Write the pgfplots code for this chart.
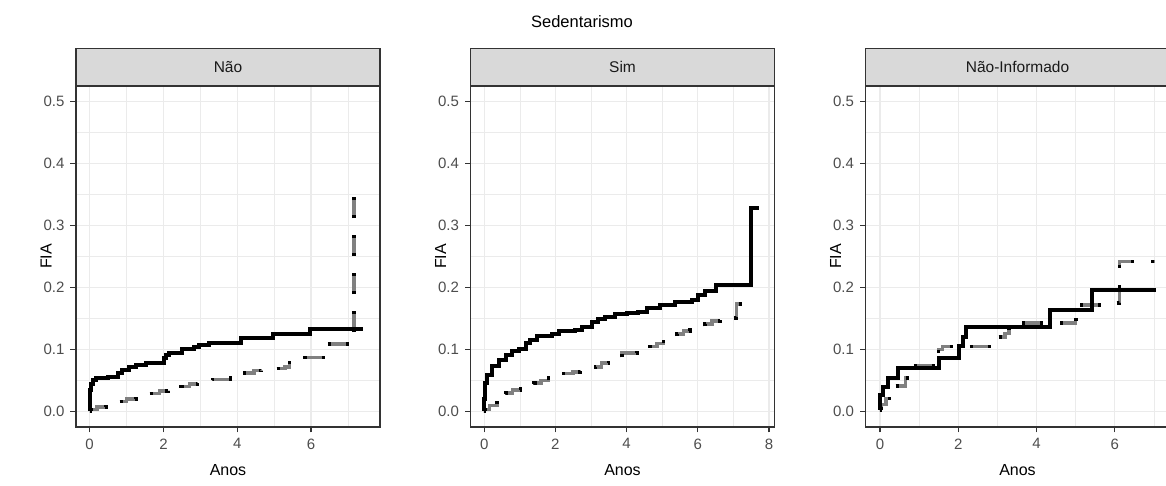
\documentclass[border=0pt]{standalone}
\usepackage{fontspec}
\setmainfont{Liberation Sans}
\usepackage{pgfplots}
\pgfplotsset{compat=1.18}
\usepackage{pgfplotstable}

\definecolor{grid92}{HTML}{EBEBEB}
\definecolor{grey20}{HTML}{333333}
\definecolor{grey30}{HTML}{4D4D4D}
\definecolor{grey10}{HTML}{1A1A1A}
\definecolor{strip85}{HTML}{D9D9D9}
\definecolor{dashgrey}{HTML}{808080}

% Cumulative incidence (FIA) step curves, one table per group and curve
\pgfplotstableread{
x y
0 0
0.01 0.02
0.02 0.035
0.04 0.045
0.1 0.05
0.18 0.054
0.49 0.056
0.76 0.062
0.89 0.067
1.07 0.072
1.25 0.075
1.52 0.079
2.02 0.087
2.06 0.091
2.15 0.095
2.51 0.1
2.83 0.104
2.96 0.108
3.23 0.111
4.1 0.118
4.97 0.125
5.96 0.133
7.4 0.133
}\naoS
\pgfplotstableread{
x y
0 0.003
0.2 0.007
0.44 0.011
0.6 0.014
0.76 0.016
1.0 0.02
1.25 0.025
1.6 0.029
1.9 0.033
2.12 0.036
2.47 0.04
2.7 0.044
2.93 0.048
3.33 0.052
3.82 0.054
4.2 0.062
4.45 0.066
4.66 0.069
5.3 0.072
5.42 0.083
5.82 0.087
6.43 0.109
7.17 0.352
}\naoD
\pgfplotstableread{
x y
0 0
0.005 0.02
0.02 0.046
0.08 0.059
0.22 0.073
0.41 0.083
0.6 0.091
0.78 0.097
0.97 0.1
1.16 0.11
1.3 0.116
1.48 0.121
1.9 0.125
2.09 0.13
2.56 0.132
2.75 0.137
3.03 0.145
3.2 0.149
3.4 0.153
3.68 0.158
4.0 0.159
4.33 0.16
4.57 0.167
4.94 0.172
5.36 0.176
5.83 0.18
6.0 0.188
6.2 0.195
6.5 0.204
7.5 0.329
7.73 0.329
}\simS
\pgfplotstableread{
x y
0 0.003
0.15 0.01
0.36 0.019
0.6 0.03
0.8 0.035
1.02 0.04
1.39 0.046
1.6 0.05
1.81 0.055
2.18 0.061
2.5 0.064
2.7 0.067
3.12 0.072
3.3 0.078
3.49 0.083
3.87 0.094
4.29 0.1
4.66 0.105
4.85 0.11
5.03 0.117
5.41 0.125
5.6 0.13
5.78 0.137
6.2 0.141
6.4 0.146
6.62 0.151
7.09 0.173
7.3 0.173
}\simD
\pgfplotstableread{
x y
0 0.003
0.001 0.027
0.07 0.04
0.2 0.054
0.45 0.07
1.5 0.086
2.03 0.105
2.12 0.12
2.2 0.137
4.35 0.164
5.42 0.196
7.05 0.196
}\niS
\pgfplotstableread{
x y
0 0.005
0.03 0.011
0.15 0.021
0.3 0.041
0.65 0.054
0.75 0.073
1.5 0.1
1.6 0.105
3.0 0.12
3.2 0.126
3.3 0.141
3.6 0.143
5.0 0.148
5.12 0.172
5.9 0.175
6.12 0.242
7.02 0.242
}\niD

\pgfplotsset{
  facet/.style={
    scale only axis, width=304pt, height=341pt,
    anchor=south west,
    ymin=-0.025, ymax=0.525,
    ytick={0,0.1,0.2,0.3,0.4,0.5},
    minor ytick={0.05,0.15,0.25,0.35,0.45},
    grid=both,
    major grid style={grid92, line width=1.07pt},
    minor grid style={grid92, line width=0.53pt},
    axis line style={grey20, line width=1.07pt},
    tick style={grey20, line width=1.07pt},
    tick align=outside, major tick length=5.5pt, minor tick length=0pt,
    xtick pos=bottom, ytick pos=left,
    ticklabel style={font=\fontsize{15}{17}\selectfont, text=grey30},
    xticklabel style={yshift=-2.5pt},
    yticklabel style={xshift=-2.5pt, /pgf/number format/.cd, fixed, fixed zerofill, precision=1},
    /pgf/number format/assume math mode=true,
    xlabel=Anos, ylabel=FIA,
    label style={font=\fontsize{16}{18}\selectfont, text=black},
    xlabel style={at={(axis description cs:0.5,-0.1261)}, anchor=center},
    ylabel style={at={(axis description cs:-0.0987,0.5)}, anchor=center},
    every axis title/.style={at={(axis description cs:0.5,1)}, anchor=south,
      fill=strip85, draw=grey20, line width=1.07pt,
      minimum width=304pt, minimum height=37pt, inner sep=0pt,
      font=\fontsize{15.5}{17}\selectfont, text=grey10},
  },
  km/.style={const plot, black, line width=4pt},
  kmdash/.style={const plot, dashgrey, line width=3.5pt, dash pattern=on 21pt off 17pt},
  kmdots/.style={const plot, black, line width=3.5pt, dash pattern=on 3pt off 15pt on 3pt off 17pt},
}

\begin{document}
\begin{tikzpicture}
\useasboundingbox (0,0) rectangle (1166pt,486pt);

\node[font=\fontsize{16.5}{19}\selectfont] at (582pt,464pt) {Sedentarismo};

\begin{axis}[facet, at={(76pt,59pt)}, title={Não},
  xmin=-0.37, xmax=7.87, xtick={0,2,4,6}, minor xtick={1,3,5,7}]
  \addplot[kmdash] table {\naoD};
  \addplot[kmdots] table {\naoD};
  \addplot[km] table {\naoS};
\end{axis}

\begin{axis}[facet, at={(470.5pt,59pt)}, title={Sim},
  xmin=-0.385, xmax=8.155, xtick={0,2,4,6,8}, minor xtick={1,3,5,7}]
  \addplot[kmdash] table {\simD};
  \addplot[kmdots] table {\simD};
  \addplot[km] table {\simS};
\end{axis}

\begin{axis}[facet, at={(865.5pt,59pt)}, title={Não-Informado},
  xmin=-0.37, xmax=7.4, xtick={0,2,4,6}, minor xtick={1,3,5,7}]
  \addplot[kmdash] table {\niD};
  \addplot[kmdots] table {\niD};
  \addplot[km] table {\niS};
\end{axis}
\end{tikzpicture}
\end{document}
